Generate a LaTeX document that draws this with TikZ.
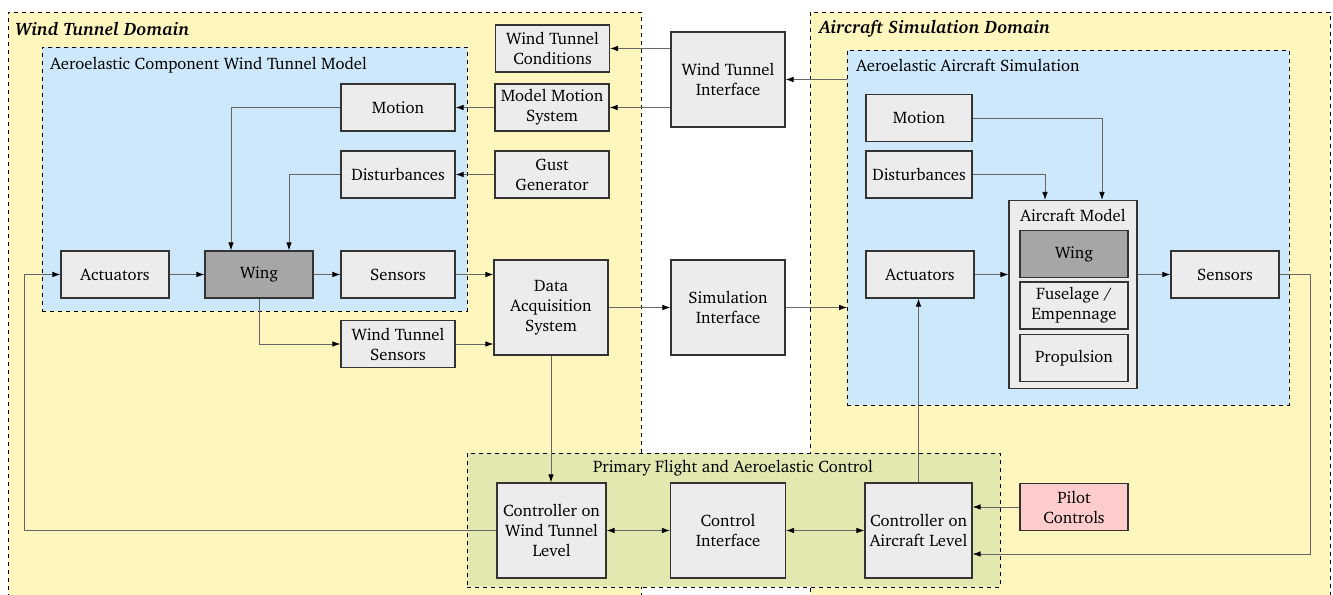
\documentclass[tikz,border=0pt]{standalone}
\usepackage[T1]{fontenc}
\usepackage{charter}
\usetikzlibrary{arrows.meta,calc}
\definecolor{domyellow}{RGB}{255,246,189}
\definecolor{modblue}{RGB}{204,232,250}
\definecolor{ctlgreen}{RGB}{226,232,176}
\definecolor{boxfill}{RGB}{236,236,236}
\definecolor{wingfill}{RGB}{166,166,166}
\definecolor{pilotfill}{RGB}{255,204,204}
\newcommand\bxfont{\fontsize{12.5}{15}\selectfont}
\newcommand\ttlfont{\fontsize{13.5}{16}\selectfont}
\tikzset{
  region/.style={draw=black, dashed, line width=0.7pt, anchor=north west, inner sep=0pt},
  bw/.style={minimum width=#1*0.75pt},
  bh/.style={minimum height=#1*0.75pt},
  box/.style={draw=black!80, line width=0.9pt, fill=boxfill, align=center, inner sep=1pt, font=\bxfont, minimum height=35.25pt},
  wide/.style={box, bw=114},
  narrow/.style={box, bw=108},
  tall/.style={bh=95},
  lbl/.style={inner sep=0pt, font=\bxfont},
  title/.style={inner sep=0pt, font=\ttlfont\bfseries\itshape},
  arr/.style={draw=black!60, line width=0.6pt, -{Latex[length=6pt,width=4.2pt,color=black]}},
  darr/.style={draw=black!60, line width=0.6pt, {Latex[length=6pt,width=4.2pt,color=black]}-{Latex[length=6pt,width=4.2pt,color=black]}}
}
\begin{document}
\begin{tikzpicture}[x=0.75pt,y=-0.75pt]
\useasboundingbox (0,0) rectangle (1333,595);
\clip (0,0) rectangle (1333,595);
% domains
\node[region, fill=domyellow, bw=633, bh=600] (wtd) at (8,12) {};
\node[region, fill=domyellow, bw=520, bh=600] (asd) at (810,12) {};
\node[region, fill=modblue, bw=425, bh=264] (wtm) at (42,47) {};
\node[region, fill=modblue, bw=442, bh=355] (asim) at (847,50) {};
\node[region, fill=ctlgreen, bw=533, bh=134] (pfc) at (467,453) {};
% region labels
\node[title, anchor=west] (t1) at (15,29) {Wind Tunnel Domain};
\node[title, anchor=west] (t2) at (819,29) {Aircraft Simulation Domain};
\node[lbl, anchor=west] (t3) at (50,65) {Aeroelastic Component Wind Tunnel Model};
\node[lbl, anchor=west] (t4) at (856,65) {Aeroelastic Aircraft Simulation};
\node[lbl] (t5) at (733,468) {Primary Flight and Aeroelastic Control};
% wind tunnel side
\node[wide] (wtc) at (552.5,48.5) {Wind Tunnel\\Conditions};
\node[wide] (mms) at (552,107.5) {Model Motion\\System};
\node[wide, tall] (wti) at (728,79.5) {Wind Tunnel\\Interface};
\node[wide] (motL) at (398,107.5) {Motion};
\node[wide] (distL) at (398,174.5) {Disturbances};
\node[wide] (gust) at (552,174.5) {Gust\\Generator};
\node[narrow] (actL) at (115,274.5) {Actuators};
\node[narrow, fill=wingfill] (wingL) at (259,274.5) {Wing};
\node[wide] (sensL) at (398,274.5) {Sensors};
\node[wide] (wts) at (398,344) {Wind Tunnel\\Sensors};
\node[wide, tall] (das) at (551,307.5) {Data\\Acquisition\\System};
\node[wide, tall] (simI) at (728,307.5) {Simulation\\Interface};
% aircraft side
\node[narrow, bw=106] (motR) at (919,118) {Motion};
\node[narrow, bw=106] (distR) at (919,174.5) {Disturbances};
\node[narrow] (actR) at (920,274.5) {Actuators};
\node[narrow] (sensR) at (1225,274.5) {Sensors};
\node[box, bw=128, bh=188] (am) at (1073,294.5) {};
\node[lbl] (amt) at (1073,215) {Aircraft Model};
\node[narrow, fill=wingfill] (wingR) at (1074,254) {Wing};
\node[narrow] (fus) at (1074,305.5) {Fuselage /\\Empennage};
\node[narrow] (prop) at (1074,358) {Propulsion};
% control
\node[narrow, tall, bw=109] (ctrlWT) at (551.5,530.5) {Controller on\\Wind Tunnel\\Level};
\node[wide, tall, bw=115] (ctrlI) at (728,530.5) {Control\\Interface};
\node[narrow, tall, bw=107] (ctrlAC) at (918.5,530.5) {Controller on\\Aircraft Level};
\node[narrow, fill=pilotfill] (pilot) at (1074,507) {Pilot\\Controls};
% connectors
\draw[arr] (wti.west |- wtc.east) -- (wtc.east);
\draw[arr] (wti.west |- mms.east) -- (mms.east);
\draw[arr] (asim.west |- wti.east) -- (wti.east);
\draw[arr] (mms.west) -- (motL.east);
\draw[arr] (gust.west) -- (distL.east);
\draw[arr] (motL.west) -| ($(wingL.north)+(-28,0)$);
\draw[arr] (distL.west) -| ($(wingL.north)+(30,0)$);
\draw[arr] (actL.east) -- (wingL.west);
\draw[arr] (wingL.east) -- (sensL.west);
\draw[arr] (sensL.east) -- (das.west |- sensL.east);
\draw[arr] (wingL.south) |- (wts.west);
\draw[arr] (wts.east) -- (das.west |- wts.east);
\draw[arr] (das.east) -- (simI.west);
\draw[arr] (simI.east) -- (asim.west |- simI.east);
\draw[arr] (das.south) -- (das.south |- ctrlWT.north);
\draw[arr] (ctrlWT.west) -| ($(actL.west)+(-36,0)$) -- (actL.west);
\draw[darr] (ctrlWT.east) -- (ctrlI.west);
\draw[darr] (ctrlI.east) -- (ctrlAC.west);
\draw[arr] (ctrlAC.north) -- (ctrlAC.north |- actR.south);
\draw[arr] (pilot.west) -- (ctrlAC.east |- pilot.west);
\draw[arr] (sensR.east) -- ++(31,0) |- ($(ctrlAC.east)+(0,23.5)$);
\draw[arr] (motR.east) -| ($(am.north)+(29,0)$);
\draw[arr] (distR.east) -| ($(am.north)+(-28,0)$);
\draw[arr] (actR.east) -- (am.west |- actR.east);
\draw[arr] (am.east |- sensR.west) -- (sensR.west);
\end{tikzpicture}
\end{document}
